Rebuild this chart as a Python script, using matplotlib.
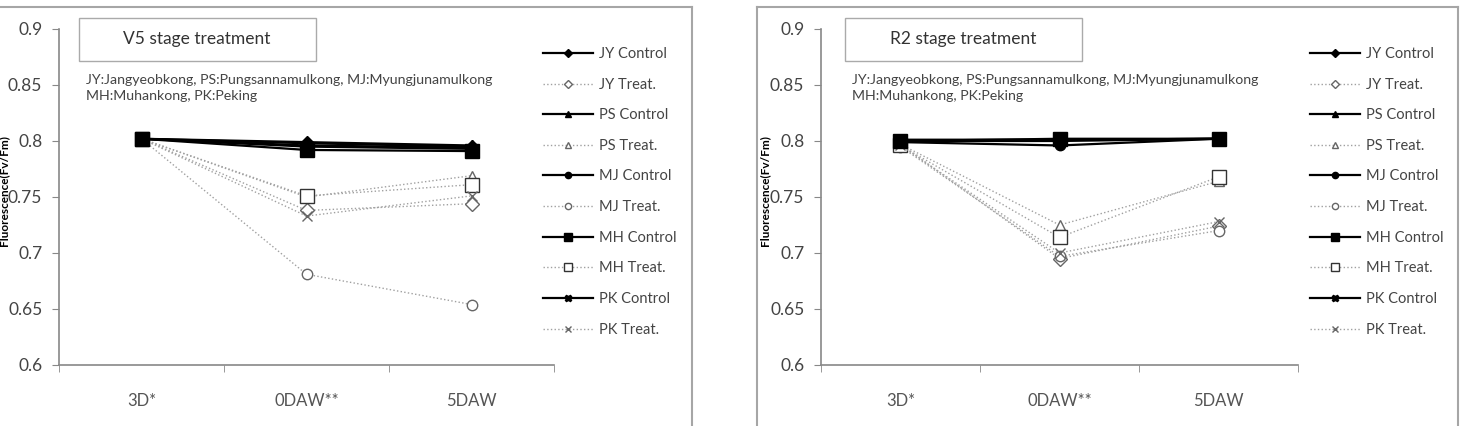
import matplotlib
matplotlib.use("Agg")
import matplotlib.pyplot as plt
from matplotlib.lines import Line2D
from matplotlib.patches import Rectangle

# categories on the x axis
categories = ['3D*', '0DAW**', '5DAW']
yticks = [0.6, 0.65, 0.7, 0.75, 0.8, 0.85, 0.9]

# V5 stage treatment (Fv/Fm)
v5_jy_ctrl = [0.802, 0.798, 0.795]
v5_jy_trt = [0.802, 0.738, 0.744]
v5_ps_ctrl = [0.802, 0.799, 0.796]
v5_ps_trt = [0.802, 0.750, 0.769]
v5_mj_ctrl = [0.802, 0.796, 0.794]
v5_mj_trt = [0.802, 0.681, 0.654]
v5_mh_ctrl = [0.802, 0.792, 0.791]
v5_mh_trt = [0.802, 0.751, 0.761]
v5_pk_ctrl = [0.802, 0.795, 0.793]
v5_pk_trt = [0.802, 0.733, 0.751]

# R2 stage treatment (Fv/Fm)
r2_jy_ctrl = [0.800, 0.800, 0.802]
r2_jy_trt = [0.797, 0.695, 0.724]
r2_ps_ctrl = [0.801, 0.801, 0.802]
r2_ps_trt = [0.797, 0.725, 0.764]
r2_mj_ctrl = [0.799, 0.796, 0.802]
r2_mj_trt = [0.795, 0.697, 0.720]
r2_mh_ctrl = [0.800, 0.802, 0.802]
r2_mh_trt = [0.796, 0.714, 0.768]
r2_pk_ctrl = [0.801, 0.801, 0.802]
r2_pk_trt = [0.796, 0.700, 0.728]

labels = ['JY Control', 'JY Treat.', 'PS Control', 'PS Treat.', 'MJ Control',
          'MJ Treat.', 'MH Control', 'MH Treat.', 'PK Control', 'PK Treat.']
markers = ['D', 'D', '^', '^', 'o', 'o', 's', 's', 'X', 'x']
msizes = [7, 7, 7.5, 7.5, 7.5, 7.5, 9.5, 9.5, 7.5, 7.5]

note = "JY:Jangyeobkong, PS:Pungsannamulkong, MJ:Myungjunamulkong\nMH:Muhankong, PK:Peking"

plt.rcParams['font.family'] = ['Lato', 'DejaVu Sans']

W, H = 1469, 426
fig = plt.figure(figsize=(W / 100, H / 100), dpi=100)


def fx(px):
    return px / W


def fy(py):
    return 1 - py / H


def draw_panel(left, right, series, title, box_x, legend_x, ylab_x):
    ax = fig.add_axes([fx(left), fy(365), fx(right - left), fy(29) - fy(365)])
    x = list(range(len(categories)))
    # treatments underneath, controls on top
    for i, ys in enumerate(series):
        if i % 2 == 0:
            ax.plot(x, ys, color='black', lw=1.6, marker=markers[i], ms=msizes[i],
                    mfc='black', mec='black', label=labels[i], zorder=4)
        else:
            edge = '#333333' if markers[i] == 's' else '#666666'
            ax.plot(x, ys, color='#a0a0a0', lw=1.0, ls=':', marker=markers[i],
                    ms=msizes[i], mfc='white', mec=edge, mew=1.0,
                    label=labels[i], zorder=3)
    ax.set_xlim(-0.5, 2.5)
    ax.set_ylim(0.6, 0.9)
    ax.set_yticks(yticks)
    ax.set_yticklabels(['0.6', '0.65', '0.7', '0.75', '0.8', '0.85', '0.9'])
    ax.set_xticks(x)
    ax.set_xticklabels(categories)
    ax.set_xticks([-0.5, 0.5, 1.5, 2.5], minor=True)
    ax.tick_params(axis='x', which='major', length=0, pad=20, labelsize=12,
                   labelcolor='#555555')
    ax.tick_params(axis='x', which='minor', length=5, color='#888888')
    ax.tick_params(axis='y', length=5, color='#888888', labelsize=12.5,
                   labelcolor='#444444', pad=7)
    for s in ['top', 'right']:
        ax.spines[s].set_visible(False)
    for s in ['left', 'bottom']:
        ax.spines[s].set_color('#888888')
        ax.spines[s].set_linewidth(1.2)

    # title box
    fig.add_artist(Rectangle((fx(box_x), fy(61)), fx(237), fy(18) - fy(61),
                             transform=fig.transFigure, fill=False,
                             ec='#aaaaaa', lw=1.0))
    fig.text(fx(box_x + 118), fy(39), title, ha='center', va='center',
             fontsize=12.5, color='#333333')
    fig.text(fx(box_x + 7), fy(88), note, ha='left', va='center',
             fontsize=10.2, color='#444444', linespacing=1.3)

    fig.text(fx(ylab_x), fy(191), 'Fluorescence(Fv/Fm)', rotation=90,
             ha='center', va='center', fontsize=8.5, fontweight='bold')

    h, l = ax.get_legend_handles_labels()
    leg = ax.legend(h, l, loc='upper left', bbox_to_anchor=(fx(legend_x), fy(47)),
                    bbox_transform=fig.transFigure, frameon=False, fontsize=10.5,
                    handlelength=3.4, handletextpad=0.45, labelspacing=1.14,
                    markerscale=0.6, borderpad=0, borderaxespad=0)
    for t in leg.get_texts():
        t.set_color('#444444')
    return ax


v5 = [v5_jy_ctrl, v5_jy_trt, v5_ps_ctrl, v5_ps_trt, v5_mj_ctrl, v5_mj_trt,
      v5_mh_ctrl, v5_mh_trt, v5_pk_ctrl, v5_pk_trt]
r2 = [r2_jy_ctrl, r2_jy_trt, r2_ps_ctrl, r2_ps_trt, r2_mj_ctrl, r2_mj_trt,
      r2_mh_ctrl, r2_mh_trt, r2_pk_ctrl, r2_pk_trt]

draw_panel(59, 554, v5, 'V5 stage treatment', 79, 543, 4)
draw_panel(821, 1298, r2, 'R2 stage treatment', 845, 1310, 765)

# panel frames
fcol = '#a6a6a6'
fig.add_artist(Line2D([0, fx(692)], [fy(7), fy(7)], transform=fig.transFigure, color=fcol, lw=1.5))
fig.add_artist(Line2D([fx(692), fx(692)], [0, fy(7)], transform=fig.transFigure, color=fcol, lw=1.5))
fig.add_artist(Line2D([fx(757), fx(1458)], [fy(7), fy(7)], transform=fig.transFigure, color=fcol, lw=1.5))
fig.add_artist(Line2D([fx(757), fx(757)], [0, fy(7)], transform=fig.transFigure, color=fcol, lw=1.5))
fig.add_artist(Line2D([fx(1458), fx(1458)], [0, fy(7)], transform=fig.transFigure, color=fcol, lw=1.5))

fig.savefig('out.png', dpi=100)
